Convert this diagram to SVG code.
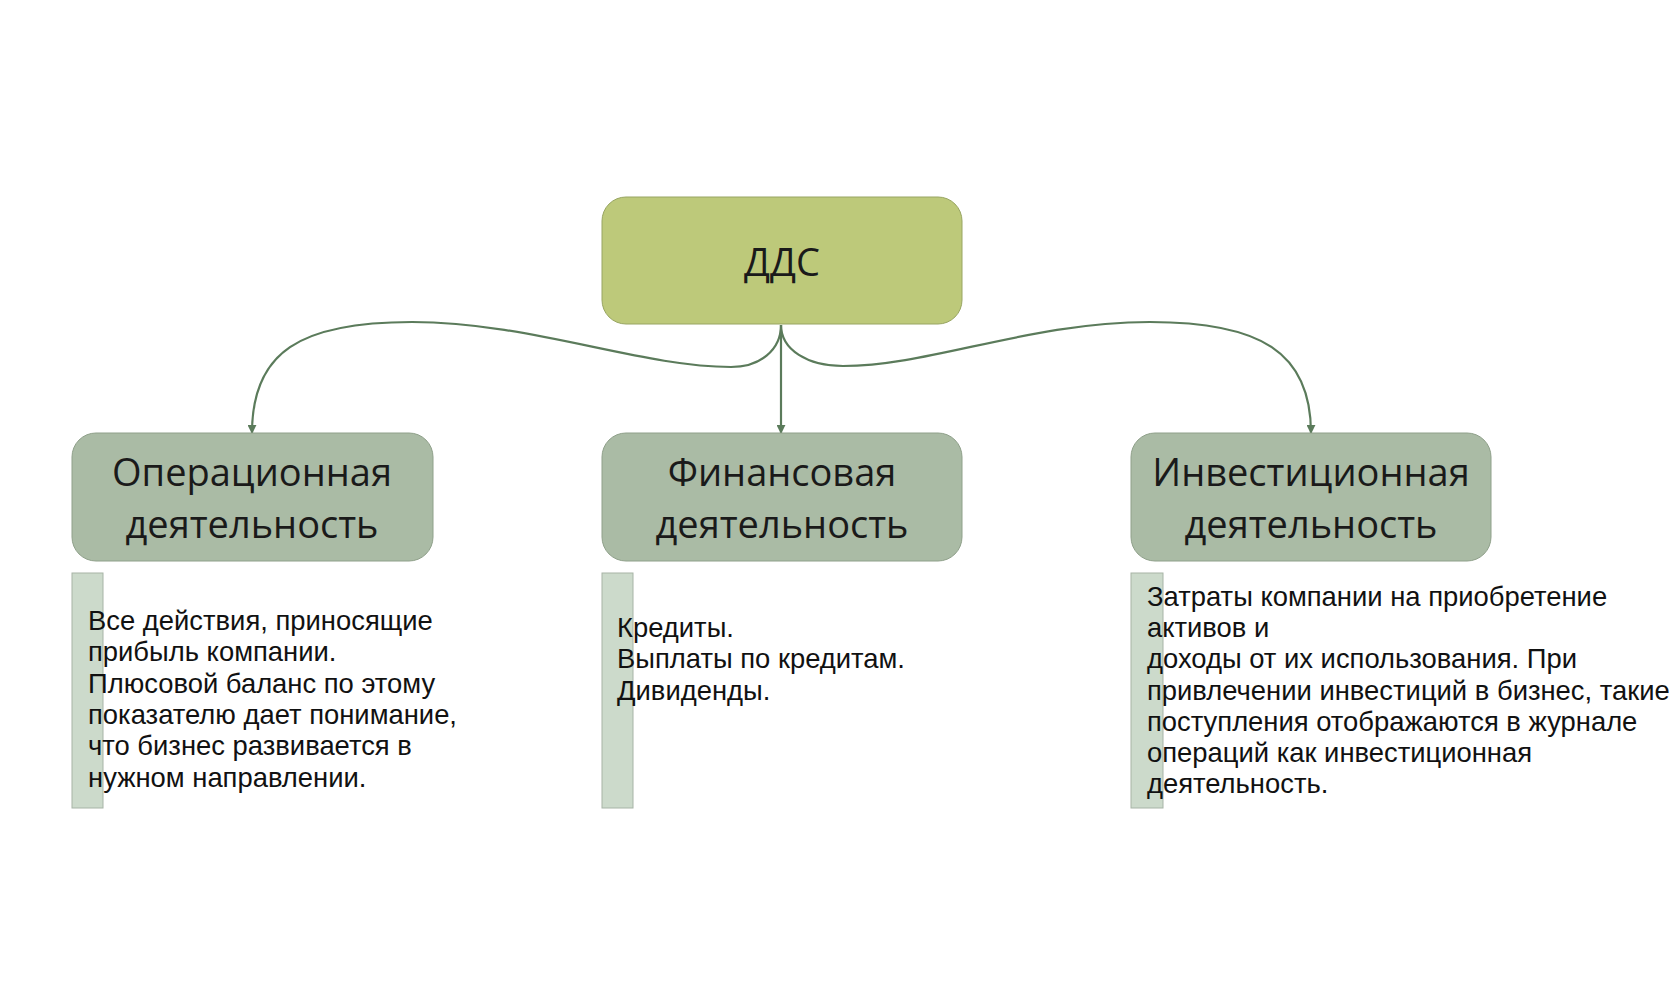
<svg xmlns="http://www.w3.org/2000/svg" width="1680" height="993" viewBox="0 0 1680 993">
<defs>
<marker id="arr" viewBox="0 0 10 10" refX="9" refY="5" markerWidth="9" markerHeight="9" markerUnits="userSpaceOnUse" orient="auto">
<path d="M0,0 L10,5 L0,10 z" fill="#5b7b5b"/>
</marker>
<style>
.root{fill:#bdc97a;stroke:#98a562;stroke-width:1}
.sub{fill:#aabba5;stroke:#8fa08a;stroke-width:1}
.bar{fill:#ccdacb;stroke:#a7b4a6;stroke-width:1}
.title{font-family:"Open Sans","Noto Sans",sans-serif;font-size:38px;fill:#1a1a1a;text-anchor:middle}
.desc{font-family:"Liberation Sans",Arial,sans-serif;font-size:27.4px;fill:#111}
.conn{fill:none;stroke:#5b7b5b;stroke-width:2.2;marker-end:url(#arr)}
</style>
</defs>
<rect width="1680" height="993" fill="#ffffff"/>
<g id="connectors">
<path class="conn" d="M781,325 C781,350 760,367 731,367 C640,367 530,322 412,322 C300,322 252,352 252,433"/>
<path class="conn" d="M781,325 L781,433"/>
<path class="conn" d="M781,325 C781,350 808,366 843,366 C930,366 1030,322 1150,322 C1260,322 1311,352 1311,433"/>
</g>
<g id="node-dds">
<rect class="root" x="602" y="197" width="360" height="127" rx="24"/>
<text class="title" x="782" y="276">ДДС</text>
</g>
<g id="node-oper">
<rect class="sub" x="72" y="433" width="361" height="128" rx="24"/>
<text class="title" x="252" y="486">Операционная</text>
<text class="title" x="252" y="538">деятельность</text>
</g>
<g id="node-fin">
<rect class="sub" x="602" y="433" width="360" height="128" rx="24"/>
<text class="title" x="782" y="486">Финансовая</text>
<text class="title" x="782" y="538">деятельность</text>
</g>
<g id="node-inv">
<rect class="sub" x="1131" y="433" width="360" height="128" rx="24"/>
<text class="title" x="1311" y="486">Инвестиционная</text>
<text class="title" x="1311" y="538">деятельность</text>
</g>
<g id="desc-oper">
<rect class="bar" x="72" y="573" width="31" height="235"/>
<text class="desc" x="88" y="630">
<tspan x="88" y="630">Все действия, приносящие</tspan>
<tspan x="88" y="661.3">прибыль компании.</tspan>
<tspan x="88" y="692.6">Плюсовой баланс по этому</tspan>
<tspan x="88" y="723.9">показателю дает понимание,</tspan>
<tspan x="88" y="755.2">что бизнес развивается в</tspan>
<tspan x="88" y="786.5">нужном направлении.</tspan>
</text>
</g>
<g id="desc-fin">
<rect class="bar" x="602" y="573" width="31" height="235"/>
<text class="desc" x="617" y="637">
<tspan x="617" y="637">Кредиты.</tspan>
<tspan x="617" y="668.3">Выплаты по кредитам.</tspan>
<tspan x="617" y="699.6">Дивиденды.</tspan>
</text>
</g>
<g id="desc-inv">
<rect class="bar" x="1131" y="573" width="32" height="235"/>
<text class="desc" x="1147" y="606">
<tspan x="1147" y="606">Затраты компании на приобретение</tspan>
<tspan x="1147" y="637.2">активов и</tspan>
<tspan x="1147" y="668.4">доходы от их использования. При</tspan>
<tspan x="1147" y="699.6">привлечении инвестиций в бизнес, такие</tspan>
<tspan x="1147" y="730.8">поступления отображаются в журнале</tspan>
<tspan x="1147" y="762">операций как инвестиционная</tspan>
<tspan x="1147" y="793.2">деятельность.</tspan>
</text>
</g>
</svg>
